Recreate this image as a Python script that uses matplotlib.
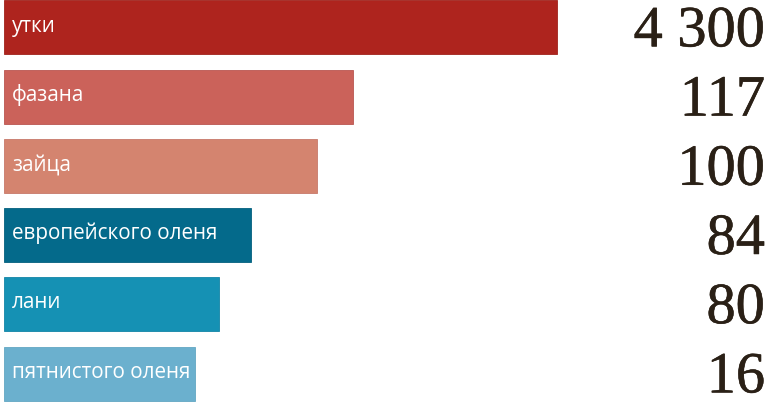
import matplotlib.pyplot as plt
import matplotlib.patheffects as pe

# Data
labels = ['утки', 'фазана', 'зайца', 'европейского оленя', 'лани', 'пятнистого оленя']
counts = [4300, 117, 100, 84, 80, 16]
count_labels = ['4 300', '117', '100', '84', '80', '16']
# bar lengths in the original are decorative, not proportional to counts
bar_len = [553, 349, 313, 247, 215, 191]
colors = ['#ae241e', '#cb625a', '#d4846f', '#046a8b', '#1591b4', '#6bb0ce']
edges = ['#a0221c', '#b95650', '#c7796a', '#03607e', '#1285a6', '#62a6c3']

fig = plt.figure(figsize=(7.71, 4.04), dpi=100)
ax = fig.add_axes([0, 0, 1, 1])

y = list(range(len(labels)))
ax.barh(y, bar_len, left=4, height=0.78, color=colors, edgecolor=edges, linewidth=0.6)

for i, (lab, num) in enumerate(zip(labels, count_labels)):
    ax.text(12, i - 0.02, lab, color='white', fontsize=14.9, family='Open Sans',
            va='center', ha='left')
    ax.text(765, i + 0.07, num, color='#2a2016', fontsize=42, family='Liberation Serif',
            va='center', ha='right',
            path_effects=[pe.withStroke(linewidth=0.4, foreground='#2a2016')])

ax.set_xlim(0, 771)
ax.set_ylim(5.44, -0.397)
ax.axis('off')

fig.savefig('out.png', dpi=100)
